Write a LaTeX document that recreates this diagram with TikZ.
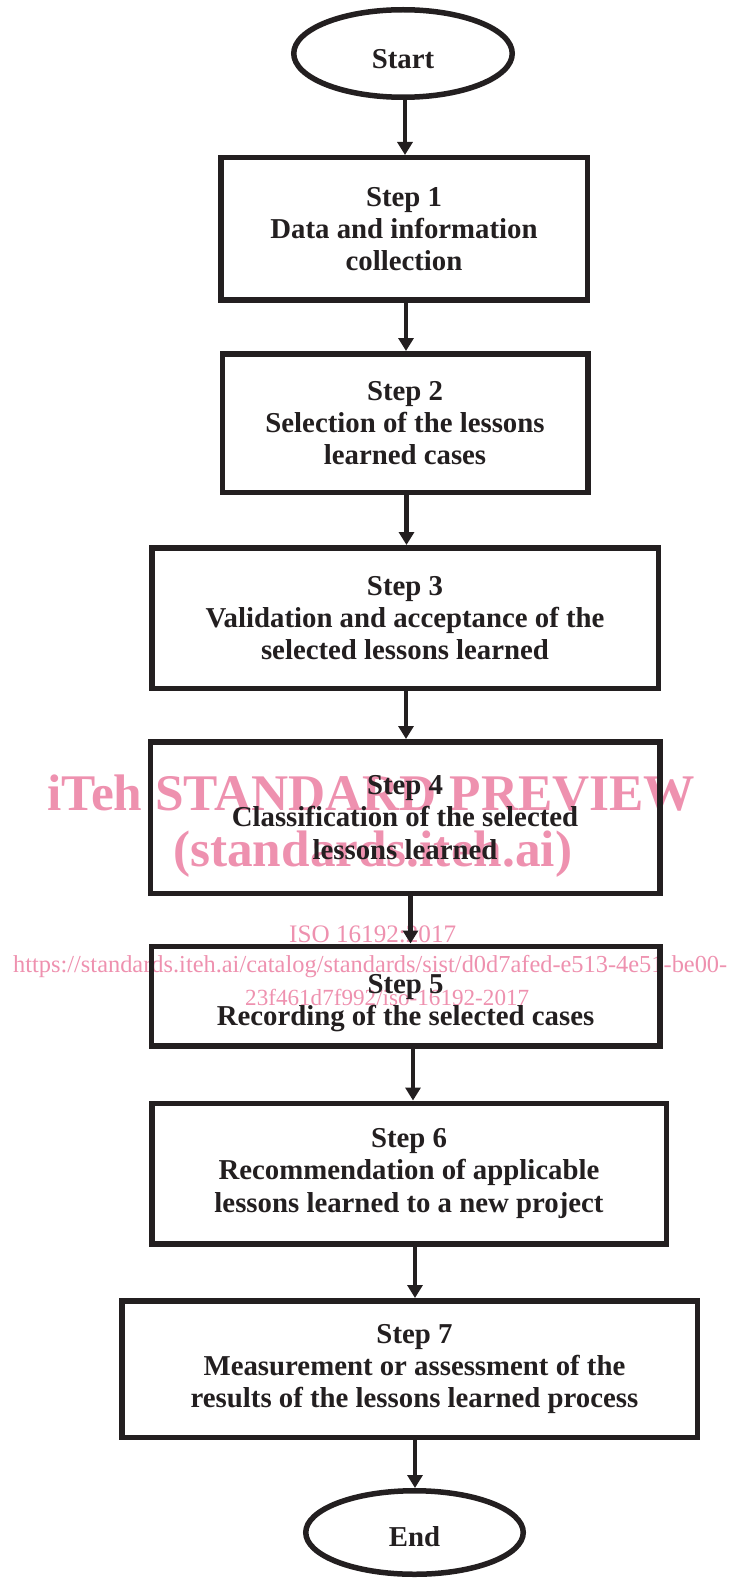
\documentclass[tikz,border=0pt]{standalone}
\usepackage{fontspec}
\setmainfont{Liberation Serif}
\usetikzlibrary{arrows.meta,shapes.geometric}
\definecolor{ink}{RGB}{35,31,32}
\definecolor{wm}{RGB}{238,145,175}
\definecolor{wmline}{RGB}{160,50,90}
\tikzset{
  boxfont/.style={font=\fontsize{28.8}{32.2}\selectfont\bfseries, text=ink},
  stepbox/.style={boxfont, draw=ink, line width=5.5pt, rectangle, inner sep=0pt, align=center},
  term/.style={boxfont, draw=ink, line width=5.5pt, ellipse, inner sep=0pt},
  arr/.style={draw=ink, line width=4.2pt, -{Triangle[width=15pt,length=13pt]}},
  wmtext/.style={text=wm, inner sep=0pt, anchor=base west}
}
\begin{document}
\begin{tikzpicture}[x=1pt,y=-1pt]
\useasboundingbox (0,0) rectangle (732,1578);

% watermark (bottom layer)
\node[wmtext] (wm1) at (47,810) {\resizebox{648pt}{!}{\fontsize{52}{52}\selectfont\bfseries iTeh STANDARD PREVIEW}};
\node[wmtext] (wm2) at (173,866) {\resizebox{399pt}{!}{\fontsize{52}{52}\selectfont\bfseries (standards.iteh.ai)}};
\node[wmtext] (wm3) at (289,942) {\resizebox{167pt}{!}{\fontsize{25}{25}\selectfont ISO 16192:2017}};
\draw[wmline, line width=1.2pt] (wm3.south west) ++(0,2) coordinate (ul1) -- (ul1 -| wm3.south east);
\node[wmtext] (wm4) at (13,972) {\resizebox{714pt}{!}{\fontsize{25}{25}\selectfont https://standards.iteh.ai/catalog/standards/sist/d0d7afed-e513-4e51-be00-}};
\node[wmtext] (wm5) at (245,1005) {\resizebox{284pt}{!}{\fontsize{25}{25}\selectfont 23f461d7f992/iso-16192-2017}};

% flow
\node[term, minimum width=218.5pt, minimum height=87.5pt] (start) at (403,53.5) {\rule{0pt}{31pt}Start};
\node[stepbox, minimum width=366.5pt, minimum height=142.5pt] (s1) at (404,229) {Step 1\\Data and information\\collection};
\node[stepbox, minimum width=365.5pt, minimum height=138.5pt] (s2) at (405,423) {Step 2\\Selection of the lessons\\learned cases};
\node[stepbox, minimum width=506.5pt, minimum height=140.5pt] (s3) at (405,618) {Step 3\\Validation and acceptance of the\\selected lessons learned};
\node[stepbox, minimum width=509.5pt, minimum height=151.5pt] (s4) at (405,817.5) {Step 4\\Classification of the selected\\lessons learned};
\node[stepbox, minimum width=508.5pt, minimum height=99.5pt] (s5) at (405.5,996) {\rule{0pt}{34pt}Step 5\\Recording of the selected cases};
\node[stepbox, minimum width=514.5pt, minimum height=140.5pt] (s6) at (409,1173.5) {Step 6\\Recommendation of applicable\\lessons learned to a new project};
\node[stepbox, minimum width=575.5pt, minimum height=136.5pt] (s7) at (409.5,1369) {\hspace*{10pt}Step 7\\\hspace*{10pt}Measurement or assessment of the\\\hspace*{10pt}results of the lessons learned process};
\node[term, minimum width=217.5pt, minimum height=83.5pt] (end) at (414.5,1532.5) {\rule{0pt}{29pt}End};

% connectors
\path ([xshift=2pt]start.south) coordinate (a0);
\path ([xshift=2pt]s1.south) coordinate (a1);
\path ([xshift=1.5pt]s2.south) coordinate (a2);
\path ([xshift=1pt]s3.south) coordinate (a3);
\path ([xshift=5.5pt]s4.south) coordinate (a4);
\path ([xshift=7.5pt]s5.south) coordinate (a5);
\path ([xshift=6pt]s6.south) coordinate (a6);
\path ([xshift=5.5pt]s7.south) coordinate (a7);
\draw[arr] (a0) -- (a0 |- s1.north);
\draw[arr] (a1) -- (a1 |- s2.north);
\draw[arr] (a2) -- (a2 |- s3.north);
\draw[arr] (a3) -- (a3 |- s4.north);
\draw[arr] (a4) -- (a4 |- s5.north);
\draw[arr] (a5) -- (a5 |- s6.north);
\draw[arr] (a6) -- (a6 |- s7.north);
\draw[arr] (a7) -- (a7 |- end.north);
\end{tikzpicture}
\end{document}
